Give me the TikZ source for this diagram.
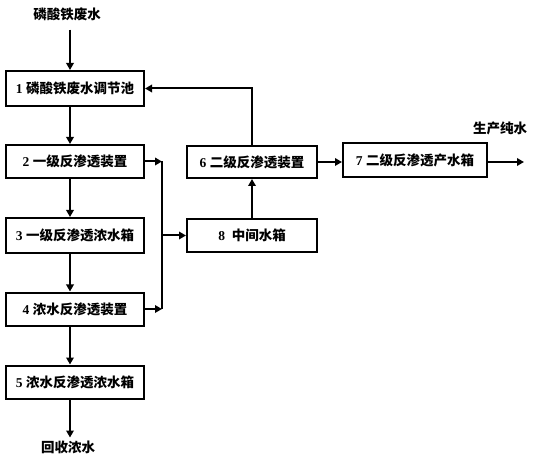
\documentclass[tikz,border=0pt]{standalone}
\usepackage{fontspec}
\setmainfont{Liberation Serif}
\newfontfamily\cjk{Noto Sans CJK SC}
\usetikzlibrary{arrows.meta}

\begin{document}
\begin{tikzpicture}[x=1pt, y=-1pt, >={Triangle[length=7pt,width=7.5pt]},
    box/.style={draw, line width=2pt, minimum height=33pt, inner sep=2pt, font=\bfseries\fontsize{13.5}{15}\selectfont},
    lbl/.style={font=\cjk\bfseries\fontsize{13.5}{15}\selectfont, inner sep=1pt},
    flow/.style={->, line width=2pt}]
    \useasboundingbox (0,0) rectangle (533,457);
    \node[lbl] (src) at (67,14) {磷酸铁废水};
    \node[box, minimum width=138pt, minimum height=35pt] (b1) at (75,88.5) {1 {\cjk 磷酸铁废水调节池}};
    \node[box, minimum width=138pt] (b2) at (75,161.5) {2 {\cjk 一级反渗透装置}};
    \node[box, minimum width=138pt, minimum height=35pt] (b3) at (75,235.5) {3 {\cjk 一级反渗透浓水箱}};
    \node[box, minimum width=138pt] (b4) at (75,309) {4 {\cjk 浓水反渗透装置}};
    \node[box, minimum width=138pt] (b5) at (75,382) {5 {\cjk 浓水反渗透浓水箱}};
    \node[box, minimum width=130pt, minimum height=32pt] (b6) at (252,162) {6 {\cjk 二级反渗透装置}};
    \node[box, minimum width=144pt, minimum height=34pt] (b7) at (415,160) {7 {\cjk 二级反渗透产水箱}};
    \node[box, minimum width=130pt] (b8) at (252,235.5) {8\enspace{\cjk 中间水箱}};
    \node[lbl] (pure) at (500,128) {生产纯水};
    \node[lbl] (sink) at (68,447) {回收浓水};
    \coordinate (bus) at (162,0);
    \coordinate (out) at (524,162);

    \draw[flow] ([xshift=3pt,yshift=-8pt]src.south) -- ([xshift=-5pt]b1.north);
    \draw[flow] ([xshift=-5pt]b1.south) -- ([xshift=-5pt]b2.north);
    \draw[flow] ([xshift=-5pt]b2.south) -- ([xshift=-5pt]b3.north);
    \draw[flow] ([xshift=-5pt]b3.south) -- ([xshift=-5pt]b4.north);
    \draw[flow] ([xshift=-5pt]b4.south) -- ([xshift=-5pt]b5.north);
    \draw[flow] ([xshift=-5pt]b5.south) -- ([xshift=-5pt,yshift=-38pt]b5.south);
    \draw[flow] (b2.east) -- (b2.east -| bus);
    \draw[flow] (b4.east) -- (b4.east -| bus);
    \draw[line width=2pt] (b2.east -| bus) -- (b4.east -| bus);
    \draw[flow] (b8.west -| bus) -- (b8.west);
    \draw[flow] (b8.north) -- (b6.south);
    \draw[flow] (b6.north) |- (b1.east);
    \draw[flow] (b6.east) -- (b6.east -| b7.west);
    \draw[flow] (b7.east |- out) -- (out);
\end{tikzpicture}
\end{document}
